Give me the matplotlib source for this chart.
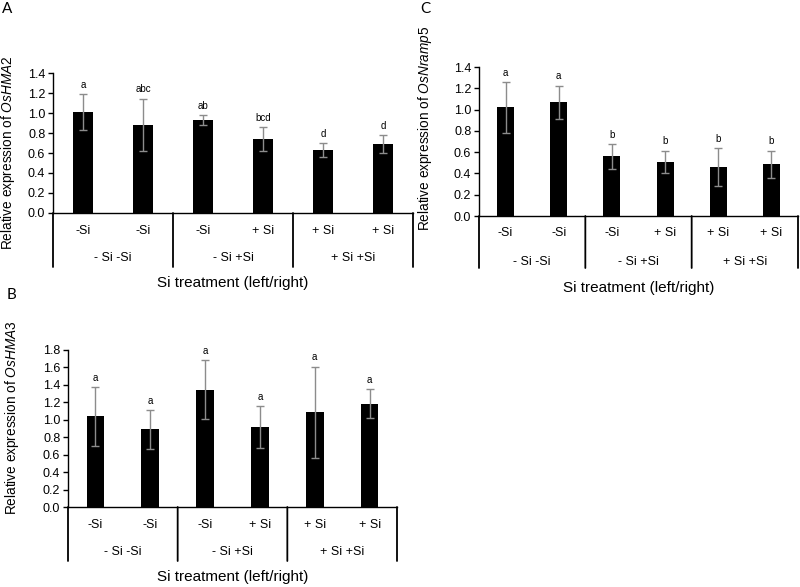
import matplotlib
matplotlib.use("Agg")
import matplotlib.pyplot as plt
import matplotlib.transforms as mtransforms
import numpy as np

plt.rcParams['font.family'] = ['Liberation Sans', 'DejaVu Sans']
plt.rcParams['mathtext.fontset'] = 'custom'
plt.rcParams['mathtext.rm'] = 'Liberation Sans'
plt.rcParams['mathtext.it'] = 'Liberation Sans:italic'

# 数据
inner_labels = ['-Si', '-Si', '-Si', '+ Si', '+ Si', '+ Si']
group_labels = ['- Si -Si', '- Si +Si', '+ Si +Si']
xlabel_text = 'Si treatment (left/right)'

hma2_mean = [1.01, 0.88, 0.93, 0.74, 0.63, 0.69]
hma2_err = [0.18, 0.265, 0.05, 0.12, 0.07, 0.09]
hma2_letters = ['a', 'abc', 'ab', 'bcd', 'd', 'd']

hma3_mean = [1.04, 0.89, 1.345, 0.92, 1.085, 1.185]
hma3_err = [0.335, 0.225, 0.335, 0.24, 0.525, 0.165]
hma3_letters = ['a', 'a', 'a', 'a', 'a', 'a']

nramp5_mean = [1.02, 1.07, 0.56, 0.51, 0.46, 0.485]
nramp5_err = [0.24, 0.155, 0.115, 0.105, 0.18, 0.13]
nramp5_letters = ['a', 'a', 'b', 'b', 'b', 'b']

W, H = 800, 587
fig = plt.figure(figsize=(W / 100, H / 100), dpi=100)


def px_axes(left, right, top, bottom):
    """像素坐标 -> figure 坐标"""
    return fig.add_axes([left / W, 1 - bottom / H, (right - left) / W, (bottom - top) / H])


def draw_panel(ax, means, errs, letters, ymax, gene, ylab_xy, row1=18, row2=45, sep=54, xl=70):
    x = np.arange(len(means))
    ax.bar(x, means, width=0.32, color='black', zorder=2)
    ax.errorbar(x, means, yerr=errs, fmt='none', ecolor='#8c8c8c', elinewidth=1,
                capsize=3, capthick=1, zorder=3)
    for xi, m, e, lt in zip(x, means, errs, letters):
        ax.annotate(lt, (xi, m + e), xytext=(0, 3), textcoords='offset points',
                    ha='center', va='bottom', fontsize=7)

    ax.set_xlim(-0.5, len(means) - 0.5)
    ax.set_ylim(0, ymax)
    ticks = np.arange(0, ymax + 0.01, 0.2)
    ax.set_yticks(ticks)
    ax.set_yticklabels([f'{v:.1f}' for v in ticks])
    ax.tick_params(axis='y', direction='out', length=3.5, width=1, labelsize=9, pad=2)
    ax.set_xticks([])
    for s in ['top', 'right']:
        ax.spines[s].set_visible(False)
    ax.spines['left'].set_linewidth(1)
    ax.spines['bottom'].set_linewidth(1)

    base = ax.get_xaxis_transform()
    t1 = mtransforms.offset_copy(base, fig=fig, y=-row1, units='dots')
    t2 = mtransforms.offset_copy(base, fig=fig, y=-row2, units='dots')
    t3 = mtransforms.offset_copy(base, fig=fig, y=-sep, units='dots')
    t4 = mtransforms.offset_copy(base, fig=fig, y=-xl, units='dots')
    for xi, lab in zip(x, inner_labels):
        ax.text(xi, 0, lab, transform=t1, ha='center', va='center', fontsize=9)
    for gi, lab in enumerate(group_labels):
        ax.text(2 * gi + 0.5, 0, lab, transform=t2, ha='center', va='center', fontsize=9)
    # 分组竖线
    for xs in [-0.5, 1.5, 3.5, 5.5]:
        ax.annotate('', xy=(xs, 0), xycoords=t3, xytext=(xs, 0), textcoords=base,
                    arrowprops=dict(arrowstyle='-', color='black', lw=1.3,
                                    shrinkA=0, shrinkB=0))
    ax.text(2.5, 0, xlabel_text, transform=t4, ha='center', va='center', fontsize=11)

    ax.set_ylabel('Relative expression of $\\mathit{' + gene + '}$', fontsize=9.8)
    ax.yaxis.set_label_coords(*ylab_xy)


axA = px_axes(53, 413, 73, 213)
draw_panel(axA, hma2_mean, hma2_err, hma2_letters, 1.4, 'OsHMA2', (-0.1, 0.43))

axC = px_axes(479, 798, 67, 216)
draw_panel(axC, nramp5_mean, nramp5_err, nramp5_letters, 1.4, 'OsNramp5', (-0.141, 0.59),
           row1=17, row2=46, sep=52, xl=72)

axB = px_axes(68, 397, 350, 507)
draw_panel(axB, hma3_mean, hma3_err, hma3_letters, 1.8, 'OsHMA3', (-0.143, 0.57))

for lab, (px, py) in zip(['A', 'B', 'C'], [(7, 9), (12, 295), (425, 9)]):
    fig.text(px / W, 1 - py / H, lab, fontsize=11, family=['Lato', 'DejaVu Sans'],
             ha='center', va='center')

fig.savefig('out.png', dpi=100)
